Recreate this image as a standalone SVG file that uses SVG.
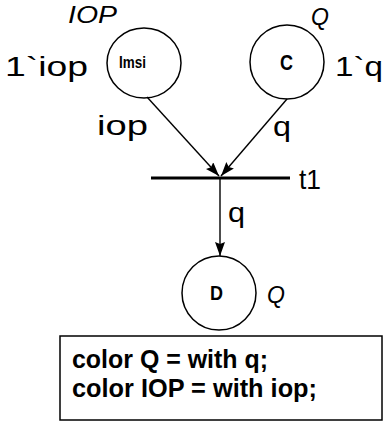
<svg xmlns="http://www.w3.org/2000/svg" width="386" height="423" viewBox="0 0 386 423">
  <style>
    .place { fill: #fff; stroke: #000; stroke-width: 1.5; }
    .arc { stroke: #000; stroke-width: 1.4; fill: none; marker-end: url(#head); }
    .lbl { font-family: "Liberation Sans", Arial, sans-serif; font-size: 28px; fill: #000; }
    .type { font-family: "Liberation Sans", Arial, sans-serif; font-size: 23px; font-style: italic; fill: #000; }
    .name { font-family: "Liberation Sans", Arial, sans-serif; font-weight: bold; fill: #000; }
    .decl { font-family: "Liberation Sans", Arial, sans-serif; font-weight: bold; font-size: 26px; fill: #000; }
  </style>
  <defs>
    <marker id="head" viewBox="0 0 14 10" refX="14" refY="5" markerWidth="14" markerHeight="10" markerUnits="userSpaceOnUse" orient="auto">
      <path d="M0,0 L14,5 L0,10 L2,5 z" fill="#000"/>
    </marker>
  </defs>

  <!-- place Imsi -->
  <g id="place-imsi">
    <ellipse class="place" cx="144" cy="63" rx="37" ry="35"/>
    <text class="name" x="119" y="68" font-size="17" textLength="27" lengthAdjust="spacingAndGlyphs">Imsi</text>
    <text class="type" x="68" y="23" textLength="49" lengthAdjust="spacingAndGlyphs">IOP</text>
    <text class="lbl" x="5" y="76" textLength="83" lengthAdjust="spacingAndGlyphs">1`iop</text>
  </g>

  <!-- place C -->
  <g id="place-c">
    <circle class="place" cx="287" cy="62" r="37"/>
    <text class="name" x="280" y="70" font-size="22" textLength="13" lengthAdjust="spacingAndGlyphs">C</text>
    <text class="type" x="311" y="25">Q</text>
    <text class="lbl" x="335" y="76" textLength="48" lengthAdjust="spacingAndGlyphs">1`q</text>
  </g>

  <!-- transition t1 -->
  <g id="transition-t1">
    <line x1="151" y1="178" x2="290" y2="178" stroke="#000" stroke-width="3.2"/>
    <text class="lbl" x="299" y="189" textLength="22" lengthAdjust="spacingAndGlyphs">t1</text>
  </g>

  <!-- place D -->
  <g id="place-d">
    <circle class="place" cx="219" cy="293" r="37"/>
    <text class="name" x="210" y="300" font-size="20" textLength="13" lengthAdjust="spacingAndGlyphs">D</text>
    <text class="type" x="267" y="303">Q</text>
  </g>

  <!-- arcs with inscriptions -->
  <g id="arcs">
    <line class="arc" x1="147" y1="97" x2="219" y2="176"/>
    <line class="arc" x1="287" y1="99" x2="221" y2="176"/>
    <line class="arc" x1="220" y1="179" x2="220" y2="256"/>
    <text class="lbl" x="97" y="135" textLength="51" lengthAdjust="spacingAndGlyphs">iop</text>
    <text class="lbl" x="273" y="136" textLength="18" lengthAdjust="spacingAndGlyphs">q</text>
    <text class="lbl" x="228" y="222" textLength="17" lengthAdjust="spacingAndGlyphs">q</text>
  </g>

  <!-- colour set declarations -->
  <g id="declarations">
    <rect x="60" y="336" width="322" height="84" fill="#fff" stroke="#000" stroke-width="1.5"/>
    <text class="decl" x="72" y="368" textLength="196" lengthAdjust="spacingAndGlyphs">color Q = with q;</text>
    <text class="decl" x="72" y="397" textLength="245" lengthAdjust="spacingAndGlyphs">color IOP = with iop;</text>
  </g>
</svg>
